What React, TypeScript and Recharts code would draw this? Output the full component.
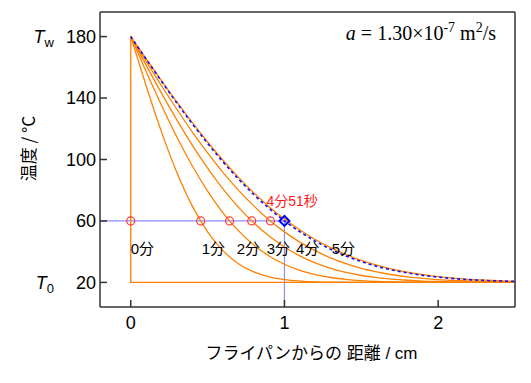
import React from 'react';
import {
  ComposedChart, Line, Scatter, XAxis, YAxis, ReferenceLine, Customized,
} from 'recharts';

// distance from the pan (cm)
const distance = [0, 0.1, 0.2, 0.3, 0.4, 0.5, 0.6, 0.7, 0.8, 0.9, 1.0, 1.1, 1.2,
  1.3, 1.4, 1.5, 1.6, 1.7, 1.8, 1.9, 2.0, 2.1, 2.2, 2.3, 2.4, 2.5];

// temperature profiles (°C) after 1..5 min and 4 min 51 s
const temp1min = [180, 148.0, 118.0, 91.6, 69.8, 52.9, 40.7, 32.2, 26.9, 23.6, 21.8, 20.9, 20.4,
  20.2, 20.1, 20.0, 20.0, 20.0, 20.0, 20.0, 20.0, 20.0, 20.0, 20.0, 20.0, 20.0];
const temp2min = [180, 157.3, 135.3, 114.6, 95.9, 79.4, 65.3, 53.7, 44.4, 37.2, 31.8, 27.8, 25.1,
  23.2, 22.0, 21.2, 20.7, 20.4, 20.2, 20.1, 20.05, 20.0, 20.0, 20.0, 20.0, 20.0];
const temp3min = [180, 161.4, 143.2, 125.8, 109.4, 94.4, 80.9, 69.0, 58.8, 50.2, 43.1, 37.3, 32.7,
  29.2, 26.5, 24.5, 23.1, 22.1, 21.4, 20.9, 20.6, 20.35, 20.2, 20.1, 20.1, 20.0];
const temp4min = [180, 163.9, 148.0, 132.7, 118.0, 104.3, 91.6, 80.1, 69.8, 60.7, 52.9, 46.2, 40.7,
  36.0, 32.2, 29.2, 26.9, 25.0, 23.6, 22.6, 21.8, 21.3, 20.9, 20.6, 20.4, 20.3];
const temp5min = [180, 165.6, 151.4, 137.5, 124.1, 111.4, 99.5, 88.5, 78.4, 69.3, 61.2, 54.1, 47.9,
  42.6, 38.1, 34.3, 31.2, 28.7, 26.7, 25.1, 23.8, 22.8, 22.0, 21.5, 21.1, 20.7];
const temp4m51 = [180, 165.4, 150.9, 136.8, 123.3, 110.5, 98.5, 87.4, 77.2, 68.2, 60.0, 53.0, 46.9,
  41.6, 37.2, 33.6, 30.5, 28.1, 26.2, 24.6, 23.5, 22.5, 21.8, 21.3, 20.9, 20.7];

// initial state (0 min): wall at Tw, the rest at T0
const stepX = [0, 0, 2.5];
const stepY = [180, 20, 20];

// where each profile reaches 60 °C
const crossX = [0, 0.455, 0.643, 0.787, 0.909];
const targetTemp = 60;
const targetX = 1.0;

// time labels
const labelText = ['0分', '1分', '2分', '3分', '4分', '5分'];
const labelX = [0, 0.462, 0.69, 0.885, 1.075, 1.308];
const labelY = 42.2;
const targetLabel = '4分51秒';

const xTicks = [0, 1, 2];
const xMinorTicks = [-0.2, 0, 0.2, 0.4, 0.6, 0.8, 1, 1.2, 1.4, 1.6, 1.8, 2, 2.2, 2.4];
const yTicks = [20, 60, 100, 140, 180];
const yMinorTicks = [20, 40, 60, 80, 100, 120, 140, 160, 180];
const ySymbols: Record<number, [string, string]> = { 180: ['T', 'w'], 20: ['T', '0'] };

const rows = distance.map((x, i) => ({
  x,
  t1: temp1min[i],
  t2: temp2min[i],
  t3: temp3min[i],
  t4: temp4min[i],
  t5: temp5min[i],
  tt: temp4m51[i],
}));
const stepRows = stepX.map((x, i) => ({ x, y: stepY[i] }));
const crossRows = crossX.map((x) => ({ x, y: targetTemp }));
const labelRows = labelText.map((text, i) => ({ x: labelX[i], y: labelY, text }));

const ORANGE = '#ff8000';
const AXIS = '#333';
const SANS = "'Liberation Sans', Arial, 'Noto Sans CJK JP', sans-serif";
const CJK = "'Noto Sans CJK JP', sans-serif";
const SERIF = "'Liberation Serif', 'Times New Roman', serif";
const XDOM: [number, number] = [-0.2, 2.5];
const YDOM: [number, number] = [4, 196];
const tickLineStyle = { stroke: AXIS, strokeWidth: 1.5 };
const axisLineStyle = { stroke: AXIS, strokeWidth: 1.5 };

const YTick = (props: any) => {
  const { x, y, payload } = props;
  const sym = ySymbols[payload.value];
  return (
    <g>
      <text x={x} y={y} dy="0.355em" textAnchor="end" fontSize={18} fontFamily={SANS} fill="#000">
        {payload.value}
      </text>
      {sym && (
        <text x={x - 42} y={y} dy="0.355em" textAnchor="end" fontSize={18} fontFamily={SANS} fill="#000">
          <tspan fontStyle="italic">{sym[0]}</tspan>
          <tspan fontSize={13} dy={4}>{sym[1]}</tspan>
        </text>
      )}
    </g>
  );
};

const Titles = () => (
  <g>
    <text x={19} y={140.5} transform="rotate(-90, 19, 140.5)" textAnchor="middle"
      dominantBaseline="central" fontSize={17} fontFamily={CJK} fill="#000">
      温度 / °C
    </text>
    <text x={303.5} y={345} textAnchor="middle" dominantBaseline="central"
      fontSize={17} fontFamily={SANS} fill="#000">
      フライパンからの 距離 / cm
    </text>
    <text x={488} y={32} textAnchor="end" fontSize={20} fontFamily={SERIF} fill="#000">
      <tspan fontStyle="italic">a</tspan>{'\u00a0=\u00a01.30×10'}
      <tspan fontSize={14} dy={-8}>-7</tspan>
      <tspan dy={8}>{'\u00a0m'}</tspan>
      <tspan fontSize={14} dy={-8}>2</tspan>
      <tspan dy={8}>/s</tspan>
    </text>
  </g>
);

export default function App() {
  return (
    <ComposedChart width={523} height={367} data={rows}
      margin={{ top: 2, right: 14, bottom: 66, left: 90 }}>
      {/* frame: major + minor ticks on all four sides, pointing inward */}
      <XAxis xAxisId="x" dataKey="x" type="number" domain={XDOM} allowDataOverflow
        ticks={xTicks} height={1} tickSize={-7} tickMargin={16}
        axisLine={axisLineStyle} tickLine={tickLineStyle}
        tick={{ fontSize: 18, fontFamily: SANS, fill: '#000' }} />
      <XAxis xAxisId="xm" dataKey="x" type="number" domain={XDOM} allowDataOverflow
        ticks={xMinorTicks} height={1} tickSize={-3} axisLine={false}
        tickLine={tickLineStyle} tick={false} />
      <XAxis xAxisId="xt" dataKey="x" type="number" orientation="top" domain={XDOM}
        allowDataOverflow ticks={xTicks} height={1} tickSize={-7}
        axisLine={axisLineStyle} tickLine={tickLineStyle} tick={false} />
      <XAxis xAxisId="xtm" dataKey="x" type="number" orientation="top" domain={XDOM}
        allowDataOverflow ticks={xMinorTicks} height={1} tickSize={-3} axisLine={false}
        tickLine={tickLineStyle} tick={false} />
      <YAxis yAxisId="y" type="number" domain={YDOM} allowDataOverflow ticks={yTicks}
        width={1} tickSize={-7} tickMargin={11}
        axisLine={axisLineStyle} tickLine={tickLineStyle} tick={<YTick />} />
      <YAxis yAxisId="ym" type="number" domain={YDOM} allowDataOverflow ticks={yMinorTicks}
        width={1} tickSize={-3} axisLine={false} tickLine={tickLineStyle} tick={false} />
      <YAxis yAxisId="yr" type="number" orientation="right" domain={YDOM} allowDataOverflow
        ticks={yTicks} width={1} tickSize={-7}
        axisLine={axisLineStyle} tickLine={tickLineStyle} tick={false} />
      <YAxis yAxisId="yrm" type="number" orientation="right" domain={YDOM} allowDataOverflow
        ticks={yMinorTicks} width={1} tickSize={-3} axisLine={false}
        tickLine={tickLineStyle} tick={false} />

      {/* guide to 60 °C at 1 cm */}
      <ReferenceLine xAxisId="x" yAxisId="y" segment={[{ x: -0.2, y: targetTemp }, { x: targetX, y: targetTemp }]}
        stroke="#8c8cff" strokeWidth={1.2} />
      <ReferenceLine xAxisId="x" yAxisId="y" segment={[{ x: targetX, y: targetTemp }, { x: targetX, y: 4 }]}
        stroke="#8c8cff" strokeWidth={1.2} />

      <Line xAxisId="x" yAxisId="y" data={stepRows} dataKey="y" type="linear" stroke={ORANGE}
        strokeWidth={1.3} dot={false} isAnimationActive={false} />
      {['t1', 't2', 't3', 't4', 't5'].map((k) => (
        <Line key={k} xAxisId="x" yAxisId="y" dataKey={k} type="monotone" stroke={ORANGE}
          strokeWidth={1.3} dot={false} isAnimationActive={false} />
      ))}
      <Line xAxisId="x" yAxisId="y" dataKey="tt" type="monotone" stroke="#1010ff"
        strokeWidth={1.6} strokeDasharray="3 3" dot={false} isAnimationActive={false} />

      <Scatter xAxisId="x" yAxisId="y" data={crossRows} dataKey="y" isAnimationActive={false}
        shape={(p: any) => <circle cx={p.cx} cy={p.cy} r={4} fill="none" stroke="#ff3b3b" strokeWidth={1.2} />} />
      <Scatter xAxisId="x" yAxisId="y" data={[{ x: targetX, y: targetTemp }]} dataKey="y" isAnimationActive={false}
        shape={(p: any) => (
          <g>
            <polygon points={`${p.cx},${p.cy - 5} ${p.cx + 5},${p.cy} ${p.cx},${p.cy + 5} ${p.cx - 5},${p.cy}`}
              fill="none" stroke="#0000ff" strokeWidth={2} />
            <text x={p.cx - 18} y={p.cy - 20} dominantBaseline="central" fontSize={14}
              fontFamily={SANS} fill="#ff1a1a">{targetLabel}</text>
          </g>
        )} />
      <Scatter xAxisId="x" yAxisId="y" data={labelRows} dataKey="y" isAnimationActive={false}
        shape={(p: any) => (
          <text x={p.cx} y={p.cy} dominantBaseline="central" fontSize={15} fontFamily={SANS} fill="#000">
            {p.payload.text}
          </text>
        )} />

      <Customized component={<Titles />} />
    </ComposedChart>
  );
}
